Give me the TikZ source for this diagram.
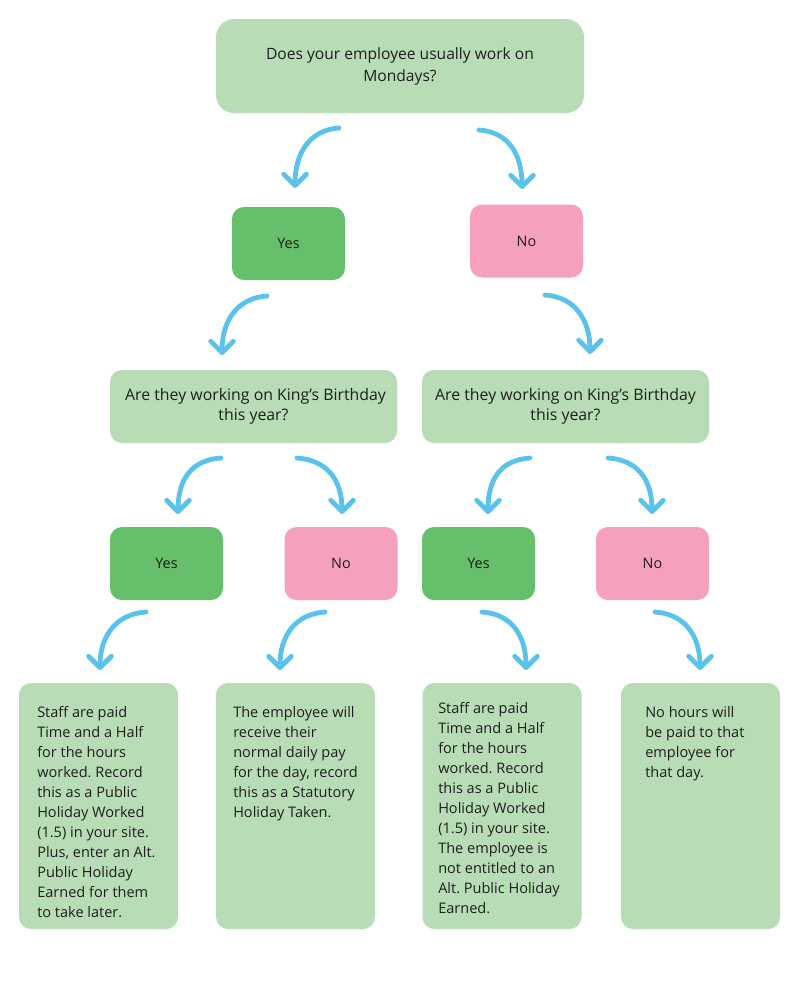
\documentclass[tikz,border=0pt]{standalone}
\usepackage{fontspec}
\setmainfont{Open Sans}
\frenchspacing
\usetikzlibrary{arrows.meta}
\definecolor{lgreen}{HTML}{B8DCB6}
\definecolor{dgreen}{HTML}{66BF6A}
\definecolor{pinkc}{HTML}{F5A0BF}
\definecolor{arrowc}{HTML}{5BC2EC}
\definecolor{txt}{HTML}{1E1E1E}
\tikzset{
  base/.style={inner sep=0pt, text=txt, font=\fontsize{11.9}{15}\selectfont, align=center},
  topbox/.style={base, font=\fontsize{11.7}{16.5}\selectfont, fill=lgreen, rounded corners=13.5pt, minimum width=276pt, minimum height=70.5pt},
  qbox/.style={base, fill=lgreen, rounded corners=9pt, minimum width=215.25pt, minimum height=54.75pt},
  yesbox/.style={base, font=\fontsize{10.8}{15}\selectfont, fill=dgreen, rounded corners=9pt, minimum width=84.75pt, minimum height=54.75pt},
  nobox/.style={base, font=\fontsize{10.8}{15}\selectfont, fill=pinkc, rounded corners=9pt, minimum width=84.75pt, minimum height=54.75pt},
  leaf/.style={base, fill=lgreen, rounded corners=9pt, minimum width=119.25pt, minimum height=184.5pt},
  leaftext/.style={inner sep=0pt, text=txt, font=\fontsize{10.9}{15}\selectfont, align=left, anchor=north west},
  curvearrow/.style={draw=arrowc, line width=3.6pt, line cap=round,
    -{Straight Barb[length=8.5pt, width=17pt, line width=3.6pt, round]}},
}
\begin{document}
\begin{tikzpicture}[x=0.75pt, y=-0.75pt]
\useasboundingbox (0,0) rectangle (800,1000);
\fill[white] (0,0) rectangle (800,1000);

\node[topbox] (top) at (400,66) {Does your employee usually work on\\Mondays?};
\node[yesbox] (y1) at (288.5,243.5) {Yes};
\node[nobox] (n1) at (526.5,241) {No};
\node[qbox] (ql) at (253.5,406.5) {\ Are they working on King's Birthday\\this year?};
\node[qbox] (qr) at (565.5,406.5) {Are they working on King's Birthday\\this year?};
\node[yesbox] (y2l) at (166.5,563.5) {Yes};
\node[nobox] (n2l) at (341,563.5) {No};
\node[yesbox] (y2r) at (478.5,563.5) {Yes};
\node[nobox] (n2r) at (652.5,563.5) {No};

\node[leaf] (b1) at (98.5,806) {};
\node[leaf] (b2) at (295.5,806) {};
\node[leaf] (b3) at (502,806) {};
\node[leaf] (b4) at (700.5,806) {};

\node[leaftext] (t1) at (37,706) {Staff are paid\\Time and a Half\\for the hours\\worked. Record\\this as a Public\\Holiday Worked\\(1.5) in your site.\\Plus, enter an Alt.\\Public Holiday\\Earned for them\\to take later.};
\node[leaftext] (t2) at (233,706) {The employee will\\receive their\\normal daily pay\\for the day, record\\this as a Statutory\\Holiday Taken.};
\node[leaftext] (t3) at (438,702) {Staff are paid\\Time and a Half\\for the hours\\worked. Record\\this as a Public\\Holiday Worked\\(1.5) in your site.\\The employee is\\not entitled to an\\Alt. Public Holiday\\Earned.};
\node[leaftext] (t4) at (645,706) {No hours will\\be paid to that\\employee for\\that day.};

% arrow endpoints
\coordinate (a1s) at (339,128); \coordinate (a1e) at (295,188);
\coordinate (a2s) at (479,130); \coordinate (a2e) at (522,189);
\coordinate (a3s) at (267,296); \coordinate (a3e) at (222,355);
\coordinate (a4s) at (545,295); \coordinate (a4e) at (590,354);
\coordinate (a5s) at (221,458); \coordinate (a5e) at (178,514);
\coordinate (a6s) at (297,458); \coordinate (a6e) at (342,514);
\coordinate (a7s) at (530,458); \coordinate (a7e) at (488,514);
\coordinate (a8s) at (608,458); \coordinate (a8e) at (652,514);
\coordinate (a9s) at (146,612); \coordinate (a9e) at (100,670);
\coordinate (a10s) at (325,612); \coordinate (a10e) at (280,670);
\coordinate (a11s) at (482,612); \coordinate (a11e) at (526,670);
\coordinate (a12s) at (655,612); \coordinate (a12e) at (700,670);

\foreach \s/\e in {a1s/a1e, a3s/a3e, a5s/a5e, a7s/a7e, a9s/a9e, a10s/a10e}{
  \draw[curvearrow] (\s) .. controls ([shift={(-30,2)}]\s) and ([shift={(0,-34)}]\e) .. (\e);
}
\foreach \s/\e in {a2s/a2e, a4s/a4e, a6s/a6e, a8s/a8e, a11s/a11e, a12s/a12e}{
  \draw[curvearrow] (\s) .. controls ([shift={(30,2)}]\s) and ([shift={(0,-34)}]\e) .. (\e);
}
\end{tikzpicture}
\end{document}
